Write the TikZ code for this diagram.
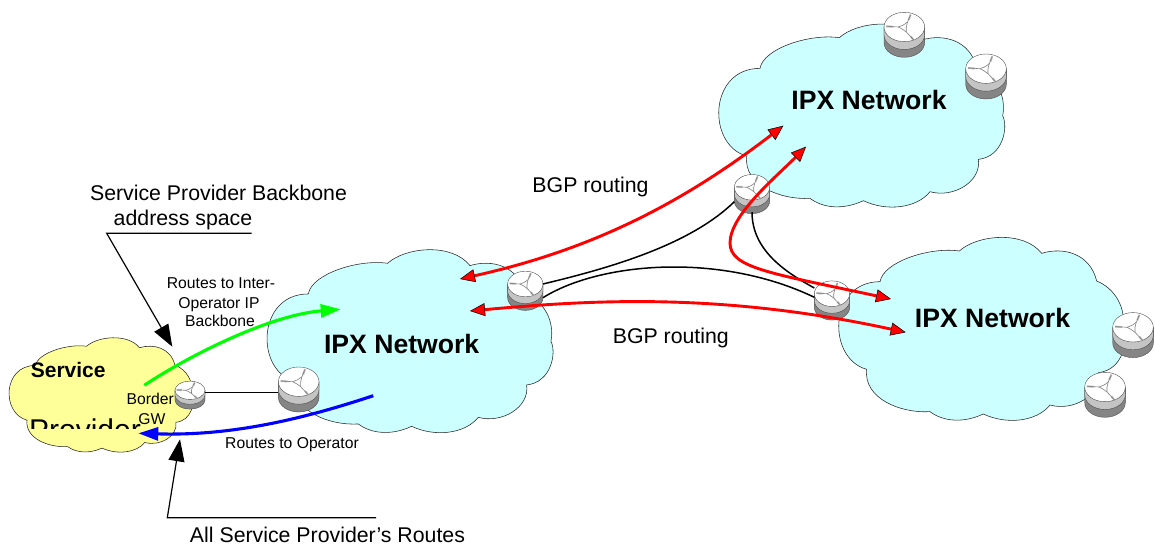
\documentclass[tikz,border=0pt]{standalone}
\usepackage{fontspec}
\setmainfont{Liberation Sans}
\usetikzlibrary{arrows.meta,shapes.geometric}
\definecolor{ipxfill}{HTML}{CCFFFF}
\definecolor{spfill}{HTML}{FFFF99}
\definecolor{rlight}{HTML}{C4C4C4}
\definecolor{rdark}{HTML}{858585}
\definecolor{arm}{HTML}{808080}
\definecolor{armlight}{HTML}{B8B8B8}
\tikzset{
  cloudline/.style={draw=black!85,line width=0.55pt},
  lbl/.style={anchor=base,inner sep=0pt,font=\fontsize{21.3}{24}\selectfont},
  smalllbl/.style={anchor=base,inner sep=0pt,font=\fontsize{15.7}{18}\selectfont},
  netlbl/.style={anchor=base,inner sep=0pt,font=\bfseries\fontsize{26.6}{30}\selectfont},
  wire/.style={draw=black,line width=1.5pt},
  redarrow/.style={draw=red,line width=2.9pt,
    {Triangle[length=15pt,width=13pt,fill=red,color=black,line width=0.5pt]}-{Triangle[length=15pt,width=13pt,fill=red,color=black,line width=0.5pt]}},
  callout/.style={draw=black,line width=1.2pt,-{Triangle[length=22pt,width=16pt,fill=black]}},
  routearrow/.style={line width=3.1pt,-{Triangle[length=20pt,width=13pt]}},
}
\newcommand{\cloudshape}{(180,170) .. controls (190,110) and (330,65) .. (418,78)
  .. controls (470,30) and (610,15) .. (665,85)
  .. controls (730,65) and (810,85) .. (830,168)
  .. controls (885,190) and (920,250) .. (908,312)
  .. controls (925,345) and (910,435) .. (835,443)
  .. controls (845,510) and (760,560) .. (690,540)
  .. controls (650,590) and (560,600) .. (490,567)
  .. controls (430,595) and (370,590) .. (330,560)
  .. controls (240,565) and (130,520) .. (140,433)
  .. controls (20,400) and (25,170) .. (180,170) -- cycle}
% name, x, y, xscale, yscale
\newcommand{\router}[5]{%
  \pgfmathsetmacro{\rw}{40.6*#4}\pgfmathsetmacro{\rh}{29.4*#5}%
  \node[ellipse,inner sep=0pt,outer sep=0pt,minimum width=\rw pt,minimum height=\rh pt] (#1) at (#2,#3) {};
  \begin{scope}[shift={(#2,#3)},xscale=#4,yscale=#5]
    \filldraw[fill=rdark,draw=black!70,line width=0.4pt] (-20.3,0) -- (-20.3,15.6) arc[start angle=180,end angle=0,x radius=20.3,y radius=14.7] -- (20.3,0) -- cycle;
    \filldraw[fill=rlight,draw=black!70,line width=0.4pt] (-20.3,0) -- (-20.3,7.8) arc[start angle=180,end angle=0,x radius=20.3,y radius=14.7] -- (20.3,0) -- cycle;
    \filldraw[fill=white,draw=black!70,line width=0.4pt] (0,0) ellipse[x radius=20.3,y radius=14.7];
    \draw[armlight,line width=1.9pt] (6.3,-12.3) -- (4.3,-7);
    \draw[armlight,line width=1.9pt] (-18,-0.7) -- (-11,-0.2);
    \draw[armlight,line width=1.9pt] (9.7,13.3) -- (6.3,9.3);
    \draw[arm,line width=0.6pt] (6.3,-12.3) .. controls (4,-7) and (1,-1) .. (2,5) -- (9.7,13.3);
    \draw[arm,line width=0.6pt] (-18,-0.7) -- (-6,0) .. controls (-3,-1) and (0,-2) .. (3,-5);
    \draw[arm,line width=0.6pt] (-6,0) .. controls (-3,1) and (-1,3) .. (2,5);
  \end{scope}}
\begin{document}
\begin{tikzpicture}[x=1pt,y=-1pt]
\useasboundingbox (0,0) rectangle (1155,545);
\fill[white] (0,0) rectangle (1155,545);
% clouds
\begin{scope}[shift={(700,11.7)},scale=1/3]
  \path[cloudline,fill=ipxfill] \cloudshape;
\end{scope}
\begin{scope}[shift={(820,225)},scale=1/3]
  \path[cloudline,fill=ipxfill] \cloudshape;
\end{scope}
\begin{scope}[shift={(248.3,237.3)},scale=1/3]
  \path[cloudline,fill=ipxfill] \cloudshape;
\end{scope}
\begin{scope}[shift={(-3,330)},xscale=0.2143,yscale=0.2083]
  \path[cloudline,fill=spfill] \cloudshape;
\end{scope}
% cloud labels
\node[netlbl] (lblA) at (869,110) {IPX Network};
\node[netlbl] (lblB) at (992.5,327.5) {IPX Network};
\node[netlbl] (lblC) at (401.7,353.5) {IPX Network};
\node[anchor=base,inner sep=0pt,font=\bfseries\fontsize{21}{24}\selectfont] (lblSvc) at (68.2,377.5) {Service};
\begin{scope}
  \clip (0,400) rectangle (200,428.3);
  \node[anchor=base,inner sep=0pt,font=\fontsize{30}{33}\selectfont] (lblProv) at (85,440) {Provider};
\end{scope}
% routers
\router{rTa}{904.3}{27}{1}{1}
\router{rTb}{986}{68.7}{1}{1}
\router{rBa}{1133}{327.3}{1}{1}
\router{rBb}{1105}{387}{1}{1}
\router{rBig}{298.7}{381.7}{1}{1}
\router{rT}{752}{187.3}{0.87}{0.87}
\router{rL}{525.3}{284}{0.87}{0.87}
\router{rR}{832}{293.7}{0.87}{0.87}
\router{rG}{190}{390.3}{0.74}{0.62}
% black links
\draw[wire] ([yshift=-2.4pt]rG.east) -- ([yshift=-2.4pt]rG.east -| rBig.west);
\draw[wire] (rL.east) .. controls (610,268) and (690,245) .. ([yshift=-14.4pt]rT.west);
\draw[wire] ([yshift=-13.7pt]rL.east) .. controls (600,262) and (720,252) .. ([yshift=-3.6pt]rR.west);
\draw[wire] ([yshift=-12pt]rT.south) .. controls (752,250) and (785,272) .. ([yshift=5.7pt]rR.west);
% text labels
\node[lbl] (lblBackbone) at (218.5,200.7) {Service Provider Backbone};
\node[lbl] (lblSpace) at (183,225.7) {address space};
\node[smalllbl] (lblR1) at (221,288) {Routes to Inter-};
\node[smalllbl] (lblR2) at (219,308.7) {Operator IP};
\node[smalllbl] (lblR3) at (220,326.3) {Backbone};
\node[smalllbl] (lblOp) at (292,448.7) {Routes to Operator};
\node[smalllbl] (lblBorder) at (150.3,404.7) {Border};
\node[smalllbl] (lblGW) at (152,424.7) {GW};
\node[lbl] (lblAll) at (327.5,542.4) {All Service Provider’s Routes};
\node[lbl] (lblBgpA) at (590.5,192.4) {BGP routing};
\node[lbl] (lblBgpB) at (670.8,343) {BGP routing};
% free ends
\coordinate (gS) at (144.3,385.3);
\coordinate (gE) at (340.7,309.3);
\coordinate (bS) at (373.3,395.7);
\coordinate (bE) at (138.3,433.3);
\coordinate (aS) at (460,279);
\coordinate (aE) at (783.3,125.7);
\coordinate (dS) at (470,311);
\coordinate (dE) at (905.7,332.3);
\coordinate (cS) at (806,146.7);
\coordinate (cM) at (730,243);
\coordinate (cE) at (891,299);
\coordinate (tA) at (106.7,233.3);
\coordinate (tB) at (251.7,233.3);
\coordinate (tTip) at (172.3,346.7);
\coordinate (uA) at (376,517.7);
\coordinate (uB) at (167.3,517.7);
\coordinate (uTip) at (180,439.3);
% route arrows
\draw[routearrow,draw=green] (gS) .. controls (190,355) and (270,315) .. (gE);
\draw[routearrow,draw=blue] (bS) .. controls (300,420) and (230,436) .. (bE);
\draw[redarrow] (aS) .. controls (590,250) and (680,205) .. (aE);
\draw[redarrow] (dS) .. controls (590,300) and (720,292) .. (dE);
\draw[redarrow] (cS) .. controls (775,178) and (730,215) .. (cM) .. controls (730,268) and (770,273) .. (cE);
% callouts
\draw[callout] (tB) -- (tA) -- (tTip);
\draw[callout] (uA) -- (uB) -- (uTip);
\end{tikzpicture}
\end{document}
